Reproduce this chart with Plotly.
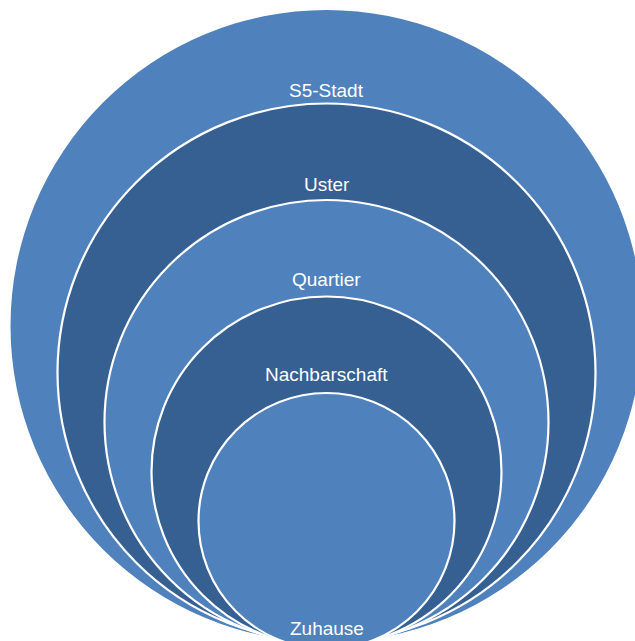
import plotly.graph_objects as go

# Data: nested levels from outermost to innermost
levels = ["S5-Stadt", "Uster", "Quartier", "Nachbarschaft", "Zuhause"]
fill_colors = ["#4F81BD", "#366092", "#4F81BD", "#366092", "#4F81BD"]

W, H = 635, 641
cx = 326.5
outer_r = 316
step = 47

fig = go.Figure()
# invisible trace to set up axes
fig.add_trace(go.Scatter(x=[0, W], y=[0, H], mode="markers",
                         marker=dict(opacity=0), hoverinfo="skip", showlegend=False))

shapes = []
annotations = []
tops = []
for i, (name, col) in enumerate(zip(levels, fill_colors)):
    r = outer_r - i * step
    top = 10 if i == 0 else 7 + i * 96.5
    cy = top + r
    tops.append(top)
    shapes.append(dict(
        type="circle", xref="x", yref="y",
        x0=cx - r, x1=cx + r, y0=cy - r, y1=cy + r,
        fillcolor=col,
        line=dict(color="white", width=0 if i == 0 else 2.2),
        layer="below",
    ))

for i, name in enumerate(levels):
    if i < len(levels) - 1:
        ty = tops[i + 1] - 13.5 - 1.8 * i
    else:
        ty = 628
    annotations.append(dict(
        x=cx, y=ty, xref="x", yref="y", text=name, showarrow=False,
        font=dict(family="Liberation Sans, Arial, sans-serif", size=19, color="white"),
        xanchor="center", yanchor="middle",
    ))

fig.update_layout(
    width=W, height=H,
    margin=dict(l=0, r=0, t=0, b=0),
    paper_bgcolor="white", plot_bgcolor="white",
    xaxis=dict(range=[0, W], visible=False, fixedrange=True),
    yaxis=dict(range=[H, 0], visible=False, fixedrange=True),
    shapes=shapes, annotations=annotations, showlegend=False,
)

fig.write_html("out.html", config={"displayModeBar": False})
